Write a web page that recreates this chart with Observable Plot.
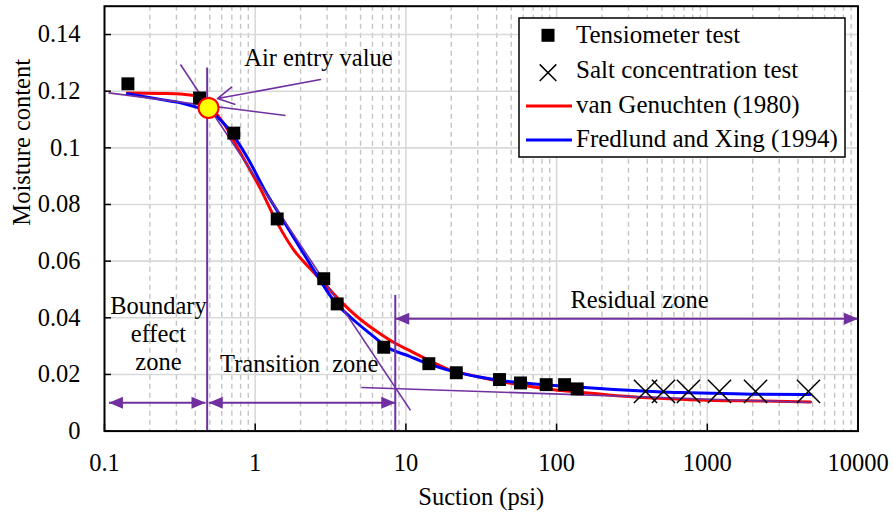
<!DOCTYPE html>
<html>
<head>
<meta charset="utf-8">
<script src="https://cdn.jsdelivr.net/npm/d3@7"></script>
<script src="https://cdn.jsdelivr.net/npm/@observablehq/plot@0.6"></script>
<style>
html, body { margin: 0; padding: 0; background: #fff; }
#wrap { position: relative; width: 893px; height: 515px; font-family: "Liberation Serif", "Times New Roman", serif; }
#wrap > svg { display: block; }
</style>
</head>
<body>
<div id="wrap"></div>
<script>
// ---------- data ----------
const tensioSuction  = [0.143, 0.427, 0.721, 1.40, 2.85, 3.50, 7.13, 14.2, 21.6, 41.8, 57.6, 85.3, 113, 137];
const tensioMoisture = [0.1226, 0.1176, 0.1052, 0.0749, 0.0538, 0.0449, 0.0296, 0.0238, 0.0206, 0.0182, 0.0170, 0.0164, 0.0164, 0.0149];

const saltSuction  = [389, 512, 750, 1205, 2089, 4690];
const saltMoisture = [0.0140, 0.0140, 0.0140, 0.0140, 0.0140, 0.0140];

const vgSuction  = [0.142, 0.235, 0.319, 0.414, 0.50, 0.62, 0.76, 1.084, 1.40, 1.80, 2.33, 2.85, 3.68, 5.0, 6.78, 8.5, 10.7, 12.5, 18.8, 31.3, 52, 86.6, 144, 240, 399, 664, 1104, 2371, 4842];
const vgMoisture = [0.1194, 0.1192, 0.1190, 0.1181, 0.1146, 0.1085, 0.1002, 0.0855, 0.0735, 0.0640, 0.0572, 0.0522, 0.0459, 0.0394, 0.0343, 0.0310, 0.0283, 0.0265, 0.0220, 0.0190, 0.0167, 0.0149, 0.0137, 0.0126, 0.0118, 0.0112, 0.0108, 0.0106, 0.0103];

const fxSuction  = [0.142, 0.235, 0.319, 0.412, 0.49, 0.652, 0.885, 1.17, 1.51, 2.00, 2.58, 3.32, 4.29, 5.82, 7.52, 10.7, 12.5, 18.8, 31.3, 52, 86.6, 144, 240, 399, 664, 1104, 2371, 4842];
const fxMoisture = [0.1191, 0.1171, 0.1159, 0.1143, 0.1130, 0.1073, 0.0967, 0.0846, 0.0750, 0.0644, 0.0549, 0.0461, 0.0402, 0.0343, 0.0296, 0.0263, 0.0248, 0.0216, 0.0190, 0.0173, 0.0163, 0.0155, 0.0147, 0.0141, 0.0136, 0.0134, 0.0130, 0.0129];

// construction (tangent) lines
const tangentSuction1  = [0.1063, 0.319, 5.07];
const tangentMoisture1 = [0.1194, 0.1294, 0.0154];
const tangentSuction2  = [1.589, 10.73, 4842];
const tangentMoisture2 = [0.1114, 0.0073, 0.0101];

// zone boundary verticals
const boundarySuction = [0.48, 8.5];
const boundaryTop     = [0.1282, 0.0479];

// zone double arrows
const zoneFrom  = [0.107, 0.492, 8.5];
const zoneTo    = [0.468, 8.5, 10000];
const zoneLevel = [0.0100, 0.0100, 0.0397];

// air entry point and its pointer arrow
const airEntrySuction = [0.49];
const airEntryMoisture = [0.1141];
const pointerFrom = [2.71, 0.1241];
const pointerTo   = [0.562, 0.1174];

// annotation labels
const noteText     = ["Air entry value", "Boundary\neffect\nzone", "Transition\u00a0 zone", "Residual zone"];
const noteSuction  = [2.63, 0.228, 1.961, 354.8];
const noteMoisture = [0.1320, 0.0346, 0.0239, 0.0465];

// ticks
const xTicks = [0.1, 1, 10, 100, 1000, 10000];
const xTickLabels = ["0.1", "1", "10", "100", "1000", "10000"];
const yTicks = [0, 0.02, 0.04, 0.06, 0.08, 0.1, 0.12, 0.14];
const yTickLabels = ["0", "0.02", "0.04", "0.06", "0.08", "0.1", "0.12", "0.14"];

const legendLabels = ["Tensiometer test", "Salt concentration test", "van Genuchten (1980)", "Fredlund and Xing (1994)"];

// ---------- tables ----------
const tensio = tensioSuction.map((s, i) => ({s, m: tensioMoisture[i]}));
const salt = saltSuction.map((s, i) => ({s, m: saltMoisture[i]}));
const vg = vgSuction.map((s, i) => ({s, m: vgMoisture[i]}));
const fx = fxSuction.map((s, i) => ({s, m: fxMoisture[i]}));
const tangents = tangentSuction1.map((s, i) => ({x1: s, y1: tangentMoisture1[i], x2: tangentSuction2[i], y2: tangentMoisture2[i]}));
const verticals = boundarySuction.map((s, i) => ({s, top: boundaryTop[i]}));
const zones = zoneFrom.map((f, i) => ({from: f, to: zoneTo[i], level: zoneLevel[i]}));
const airEntry = airEntrySuction.map((s, i) => ({s, m: airEntryMoisture[i]}));
const pointer = [{x1: pointerFrom[0], y1: pointerFrom[1], x2: pointerTo[0], y2: pointerTo[1]}];
const notes = noteText.map((t, i) => ({t, s: noteSuction[i], m: noteMoisture[i]}));

const minorTicks = [];
for (const d of [0.1, 1, 10, 100, 1000]) for (let k = 2; k <= 9; k++) minorTicks.push(+(d * k).toPrecision(3));

const purple = "#7030A0";
const leftHead = {draw(c) { c.moveTo(0, 0); c.lineTo(14, -6); c.lineTo(14, 6); c.closePath(); }};
const rightHead = {draw(c) { c.moveTo(0, 0); c.lineTo(-14, -6); c.lineTo(-14, 6); c.closePath(); }};

const serif = '"Liberation Serif", "Times New Roman", serif';
const fs = 24.5;

const chart = Plot.plot({
  width: 893,
  height: 515,
  marginLeft: 104,
  marginRight: 35.5,
  marginTop: 5.7,
  marginBottom: 84.4,
  style: {fontFamily: serif, fontSize: fs + "px", background: "white", color: "black"},
  x: {type: "log", domain: [0.1, 10000]},
  y: {domain: [0, 0.15]},
  marks: [
    Plot.gridX(minorTicks, {stroke: "#c4c4c4", strokeOpacity: 1, strokeWidth: 1.4, strokeDasharray: "5,4"}),
    Plot.gridX(xTicks.slice(1, -1), {stroke: "#d9d9d9", strokeOpacity: 1, strokeWidth: 1.6}),
    Plot.gridY(yTicks.slice(1), {stroke: "#d9d9d9", strokeOpacity: 1, strokeWidth: 1.6}),
    Plot.axisX({ticks: xTicks, tickFormat: d => xTickLabels[xTicks.indexOf(d)], tickSize: -7, tickPadding: 29, strokeWidth: 1.5, label: null, fontSize: fs}),
    Plot.axisY({ticks: yTicks, tickFormat: d => yTickLabels[yTicks.indexOf(d)], tickSize: -7, tickPadding: 31, strokeWidth: 1.5, label: null, fontSize: fs}),
    Plot.line(vg, {x: "s", y: "m", stroke: "#ff0000", strokeWidth: 3, curve: "monotone-x"}),
    Plot.line(fx, {x: "s", y: "m", stroke: "#0000ff", strokeWidth: 3, curve: "monotone-x"}),
    Plot.link(tangents, {x1: "x1", y1: "y1", x2: "x2", y2: "y2", stroke: purple, strokeWidth: 1.6}),
    Plot.ruleX(verticals, {x: "s", y1: 0, y2: "top", stroke: purple, strokeWidth: 2}),
    Plot.link(zones, {x1: "from", x2: "to", y1: "level", y2: "level", stroke: purple, strokeWidth: 2}),
    Plot.dot(zones, {x: "from", y: "level", symbol: leftHead, fill: purple, stroke: "none"}),
    Plot.dot(zones, {x: "to", y: "level", symbol: rightHead, fill: purple, stroke: "none"}),
    Plot.arrow(pointer, {x1: "x1", y1: "y1", x2: "x2", y2: "y2", stroke: purple, strokeWidth: 1.6, headLength: 17, headAngle: 57}),
    Plot.dot(tensio, {x: "s", y: "m", symbol: "square", r: 7.3, fill: "black", stroke: "none"}),
    Plot.dot(salt, {x: "s", y: "m", symbol: "times", r: 10.6, fill: "none", stroke: "black", strokeWidth: 1.5}),
    Plot.dot(airEntry, {x: "s", y: "m", r: 10, fill: "#ffff00", stroke: "#ff0000", strokeWidth: 2}),
    Plot.text(notes, {x: "s", y: "m", text: "t", lineAnchor: "middle", lineHeight: 1.13, fontSize: fs, fill: "black"}),
    Plot.frame({stroke: "black", strokeWidth: 2}),
    Plot.text(["Moisture content"], {frameAnchor: "left", rotate: -90, dx: -82, dy: 7, lineAnchor: "middle", fontSize: fs, fill: "black"}),
    Plot.text(["Suction (psi)"], {frameAnchor: "bottom", dy: 66, lineAnchor: "middle", fontSize: fs, fill: "black"})
  ]
});

const wrap = d3.select("#wrap");
wrap.node().appendChild(chart);

// legend overlay
const lg = wrap.append("svg")
  .attr("width", 329).attr("height", 142)
  .style("position", "absolute").style("left", "518px").style("top", "17px")
  .style("font-family", serif).style("font-size", "25px");
lg.append("rect").attr("x", 1).attr("y", 1).attr("width", 326).attr("height", 139)
  .attr("fill", "white").attr("stroke", "black").attr("stroke-width", 1.5);
const rowBase = [25.7, 61.3, 96.3, 129.7];
lg.selectAll("text.lab").data(legendLabels).join("text")
  .attr("x", 58).attr("y", (d, i) => rowBase[i]).attr("fill", "black").text(d => d);
lg.append("rect").attr("x", 30 - 6.5).attr("y", 18.3 - 6.5).attr("width", 13).attr("height", 13).attr("fill", "black");
lg.append("path").attr("d", "M21.7,47.4L38.3,64M21.7,64L38.3,47.4").attr("stroke", "black").attr("stroke-width", 1.5);
lg.append("line").attr("x1", 8).attr("x2", 54).attr("y1", 89).attr("y2", 89).attr("stroke", "#ff0000").attr("stroke-width", 3);
lg.append("line").attr("x1", 8).attr("x2", 54).attr("y1", 123).attr("y2", 123).attr("stroke", "#0000ff").attr("stroke-width", 3);
</script>
</body>
</html>
